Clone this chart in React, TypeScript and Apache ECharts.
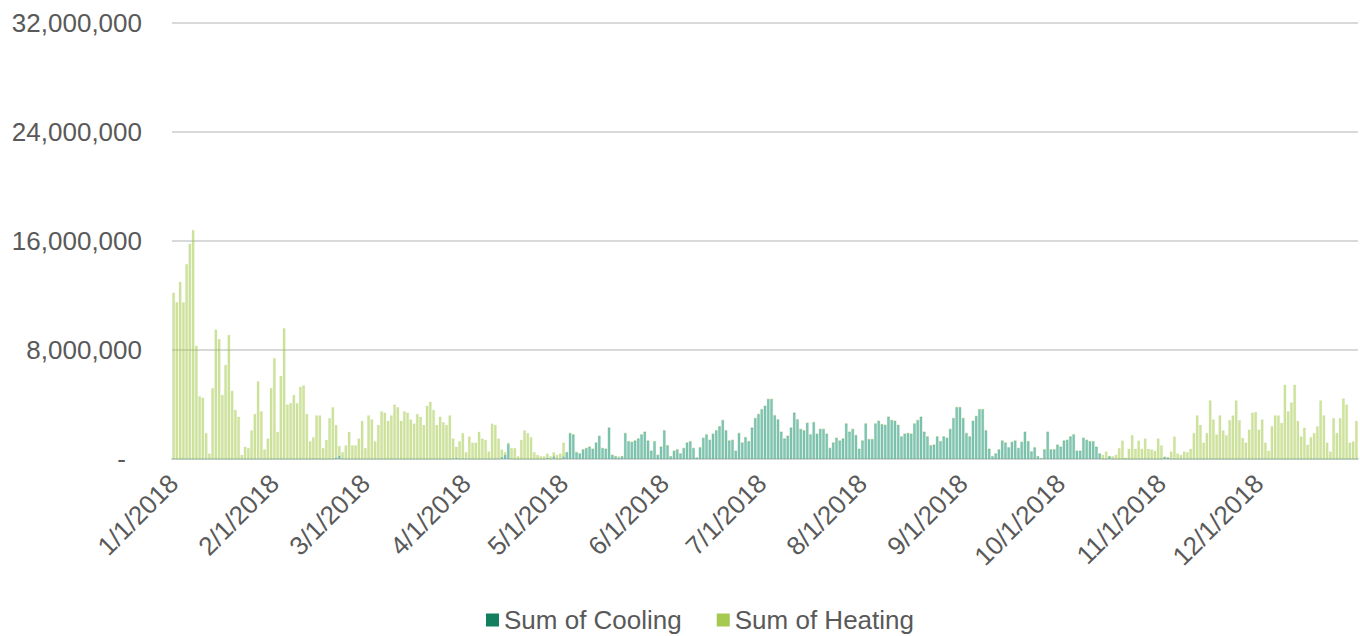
import React, { useEffect, useRef } from "react";
import * as echarts from "echarts";

// Daily totals for 2018, in millions
const monthDays = [31, 28, 31, 30, 31, 30, 31, 31, 30, 31, 30, 31];

const heatingM: number[] = [
  // Jan
  12.2, 11.5, 13.0, 11.5, 14.3, 15.8, 16.8, 8.3, 4.6, 4.5, 1.9, 0.4, 5.2, 9.5, 8.8, 4.7, 6.9, 9.1, 5.0, 3.6, 3.1, 0.3, 0.9, 0.8, 2.1, 3.3, 5.7, 3.5, 0.7, 1.5, 5.2,
  // Feb
  7.4, 2.0, 6.1, 9.6, 4.0, 4.1, 4.7, 4.1, 5.3, 5.4, 3.3, 1.3, 1.6, 3.2, 3.2, 0.8, 1.4, 3.0, 3.8, 2.4, 0.7, 0.5, 1.0, 2.0, 1.0, 1.0, 1.5, 2.8,
  // Mar
  0.8, 3.2, 2.9, 1.3, 2.5, 3.5, 3.4, 2.8, 3.2, 4.0, 3.8, 2.8, 3.5, 3.4, 2.9, 2.6, 3.3, 3.1, 2.5, 3.9, 4.2, 3.6, 2.5, 3.1, 2.7, 2.5, 3.2, 1.5, 0.8, 1.3, 1.9,
  // Apr
  0.5, 1.65, 1.2, 1.2, 2.0, 1.5, 1.4, 0.55, 2.6, 2.5, 1.5, 0.55, 0.2, 0.1, 0.8, 0.8, 0.2, 1.4, 2.1, 1.9, 1.6, 0.5, 0.3, 0.2, 0.2, 0.3, 0.2, 0.3, 0.3, 0.4,
  // May
  1.0, 0, 0, 0, 0, 0, 0, 0, 0, 0, 0, 0, 0, 0, 0, 0, 0, 0.1, 0, 0, 0, 0, 0, 0, 0, 0, 0, 0, 0, 0, 0,
  // Jun
  0, 0, 0, 0, 0, 0, 0, 0, 0, 0, 0, 0.05, 0, 0, 0, 0, 0, 0, 0, 0, 0, 0, 0, 0, 0, 0, 0, 0, 0, 0,
  // Jul
  0, 0, 0, 0, 0, 0, 0, 0, 0, 0, 0, 0, 0, 0, 0, 0, 0, 0, 0, 0, 0, 0, 0, 0, 0, 0, 0, 0, 0, 0, 0,
  // Aug
  0, 0, 0, 0, 0, 0, 0, 0, 0, 0, 0, 0, 0, 0, 0, 0, 0, 0, 0, 0, 0, 0, 0, 0, 0, 0, 0, 0, 0, 0, 0,
  // Sep
  0, 0, 0, 0, 0, 0, 0, 0, 0, 0, 0, 0, 0, 0, 0, 0, 0, 0, 0, 0, 0, 0, 0, 0, 0, 0, 0, 0, 0, 0,
  // Oct
  0, 0, 0, 0, 0, 0, 0, 0, 0, 0, 0, 0, 0, 0.3, 0.55, 0, 0.2, 0.3, 0.8, 1.35, 0.1, 0.75, 1.75, 0.75, 1.35, 0.75, 1.5, 0.75, 0.7, 0.6, 1.5,
  // Nov
  1.0, 0, 0, 0.55, 1.65, 0.4, 0.3, 0.55, 0.5, 0.75, 1.9, 3.2, 2.5, 1.2, 1.9, 4.3, 2.9, 1.8, 3.2, 2.1, 1.75, 2.85, 3.2, 4.3, 2.85, 1.55, 1.2, 2.15, 3.4, 3.45,
  // Dec
  2.15, 2.9, 1.2, 0.6, 2.4, 3.2, 3.2, 2.65, 5.45, 3.5, 4.15, 5.45, 2.8, 1.65, 2.3, 1.05, 1.6, 1.9, 2.4, 4.3, 3.2, 1.2, 0.55, 3.0, 1.9, 3.0, 4.45, 4.0, 1.2, 1.3, 2.8,
];

const coolingM: number[] = [
  // Jan
  0, 0, 0, 0, 0, 0, 0, 0, 0, 0, 0, 0, 0, 0, 0, 0, 0, 0, 0, 0, 0, 0, 0, 0, 0, 0, 0, 0, 0, 0, 0,
  // Feb
  0, 0, 0, 0, 0, 0, 0, 0, 0, 0, 0, 0, 0, 0, 0, 0, 0, 0, 0, 0.1, 0.25, 0, 0, 0, 0, 0, 0, 0,
  // Mar
  0, 0, 0, 0, 0, 0, 0, 0, 0, 0, 0, 0, 0, 0, 0, 0, 0, 0, 0, 0, 0, 0, 0, 0, 0, 0, 0, 0, 0.1, 0, 0,
  // Apr
  0, 0, 0, 0, 0, 0, 0, 0, 0, 0, 0, 0.15, 0.3, 1.1, 0, 0, 0, 0, 0, 0, 0, 0, 0, 0, 0, 0.1, 0, 0.2, 0, 0,
  // May
  0.2, 0.5, 1.9, 1.8, 0.5, 0.4, 0.7, 0.8, 0.9, 0.75, 1.2, 1.7, 0.8, 0.75, 2.3, 0.3, 0.2, 0.1, 0.2, 1.9, 1.3, 1.25, 1.35, 1.5, 1.8, 2.0, 1.35, 0.6, 1.3, 0.3, 0.9,
  // Jun
  2.1, 1.0, 0.2, 0.6, 0.7, 0.4, 0.8, 1.2, 1.3, 0.8, 0.1, 0.85, 1.55, 1.8, 1.4, 1.85, 2.1, 2.4, 2.85, 2.1, 1.35, 1.4, 0.6, 1.9, 1.2, 1.6, 1.3, 2.3, 3.0, 3.3,
  // Jul
  3.65, 3.9, 4.4, 4.4, 3.2, 2.9, 2.0, 1.5, 1.7, 2.3, 3.4, 2.9, 2.2, 2.1, 2.65, 1.8, 2.7, 1.85, 2.2, 2.2, 1.85, 0.8, 1.2, 1.55, 1.35, 1.5, 2.6, 2.0, 2.2, 1.75, 0.75,
  // Aug
  1.35, 2.6, 1.45, 1.45, 2.6, 2.8, 2.55, 2.5, 3.1, 2.85, 2.8, 2.5, 1.65, 1.85, 1.9, 1.85, 2.6, 2.85, 3.1, 2.0, 1.65, 1.0, 1.05, 1.65, 1.3, 1.65, 1.55, 2.2, 3.0, 3.8, 3.8,
  // Sep
  3.0, 1.9, 1.65, 2.8, 3.15, 3.65, 3.65, 2.1, 0.75, 0.2, 0.4, 0.7, 1.35, 1.2, 0.85, 1.25, 1.35, 0.8, 1.25, 2.0, 1.3, 0.55, 0.85, 0.2, 0.05, 0.7, 2.0, 0.7, 0.7, 1.05,
  // Oct
  0.9, 1.35, 1.4, 1.65, 1.8, 0.6, 0.6, 1.55, 1.4, 1.3, 1.3, 0.9, 0.4, 0, 0, 0.2, 0, 0, 0, 0, 0, 0, 0, 0, 0, 0, 0, 0, 0, 0, 0,
  // Nov
  0, 0.15, 0.1, 0, 0, 0, 0, 0, 0, 0, 0, 0, 0, 0, 0, 0, 0, 0, 0, 0, 0, 0, 0, 0, 0, 0, 0, 0, 0, 0,
  // Dec
  0, 0, 0, 0, 0, 0, 0, 0, 0, 0, 0, 0, 0, 0, 0, 0, 0, 0, 0, 0, 0, 0, 0, 0, 0, 0, 0, 0, 0, 0, 0,
];

const yTicks = [0, 8000000, 16000000, 24000000, 32000000];

const categories: string[] = [];
monthDays.forEach((n, m) => {
  for (let d = 1; d <= n; d++) categories.push(`${m + 1}/${d}/2018`);
});

const heating = heatingM.map((v) => Math.round(v * 1e6));
const cooling = coolingM.map((v) => Math.round(v * 1e6));

const FONT = "'Liberation Sans', Arial, sans-serif";
const TEXT = "#595959";

export default function App() {
  const ref = useRef<HTMLDivElement>(null);
  useEffect(() => {
    document.body.style.margin = "0";
    const chart = echarts.init(ref.current!, undefined, { renderer: "svg" });
    chart.setOption({
      animation: false,
      backgroundColor: "#ffffff",
      textStyle: { fontFamily: FONT },
      grid: { left: 172, right: 2, top: 23, bottom: 177, containLabel: false },
      legend: {
        left: 481,
        top: 602,
        icon: "rect",
        itemWidth: 13,
        itemHeight: 13,
        itemGap: 35,
        textStyle: { fontSize: 26, color: TEXT, fontFamily: FONT },
        data: [
          { name: "Sum of Cooling", itemStyle: { color: "#12805F", opacity: 1, borderWidth: 0 } },
          { name: "Sum of Heating", itemStyle: { color: "#A6C950", opacity: 1, borderWidth: 0 } },
        ],
      },
      xAxis: {
        type: "category",
        data: categories,
        boundaryGap: true,
        axisLine: { lineStyle: { color: "#d9d9d9", width: 2 } },
        axisTick: { show: false },
        axisLabel: {
          interval: (_i: number, v: string) => v.split("/")[1] === "1",
          rotate: 45,
          margin: 20,
          fontSize: 26,
          color: TEXT,
          fontFamily: FONT,
        },
      },
      yAxis: {
        type: "value",
        min: yTicks[0],
        max: yTicks[yTicks.length - 1],
        interval: yTicks[1] - yTicks[0],
        axisLine: { show: false },
        axisTick: { show: false },
        splitLine: { lineStyle: { color: "#d9d9d9", width: 2 } },
        axisLabel: {
          margin: 30,
          fontSize: 26,
          color: TEXT,
          fontFamily: FONT,
          formatter: (v: number) => (v === 0 ? "{z|-}" : v.toLocaleString("en-US")),
          rich: { z: { fontSize: 26, color: TEXT, fontFamily: FONT, padding: [0, 16, 0, 0] } },
        },
      },
      series: [
        {
          name: "Sum of Cooling",
          type: "bar",
          stack: "total",
          data: cooling,
          barCategoryGap: "18%",
          itemStyle: {
            color: "rgba(8,140,98,0.5)",
            borderColor: "rgba(8,140,98,0.3)",
            borderWidth: 0.5,
          },
        },
        {
          name: "Sum of Heating",
          type: "bar",
          stack: "total",
          data: heating,
          barCategoryGap: "18%",
          itemStyle: {
            color: "rgba(160,199,66,0.5)",
            borderColor: "rgba(160,199,66,0.3)",
            borderWidth: 0.5,
          },
        },
      ],
    });
    return () => chart.dispose();
  }, []);
  return (
    <div
      ref={ref}
      style={{ position: "fixed", left: 0, top: 0, width: 1360, height: 636 }}
    />
  );
}
